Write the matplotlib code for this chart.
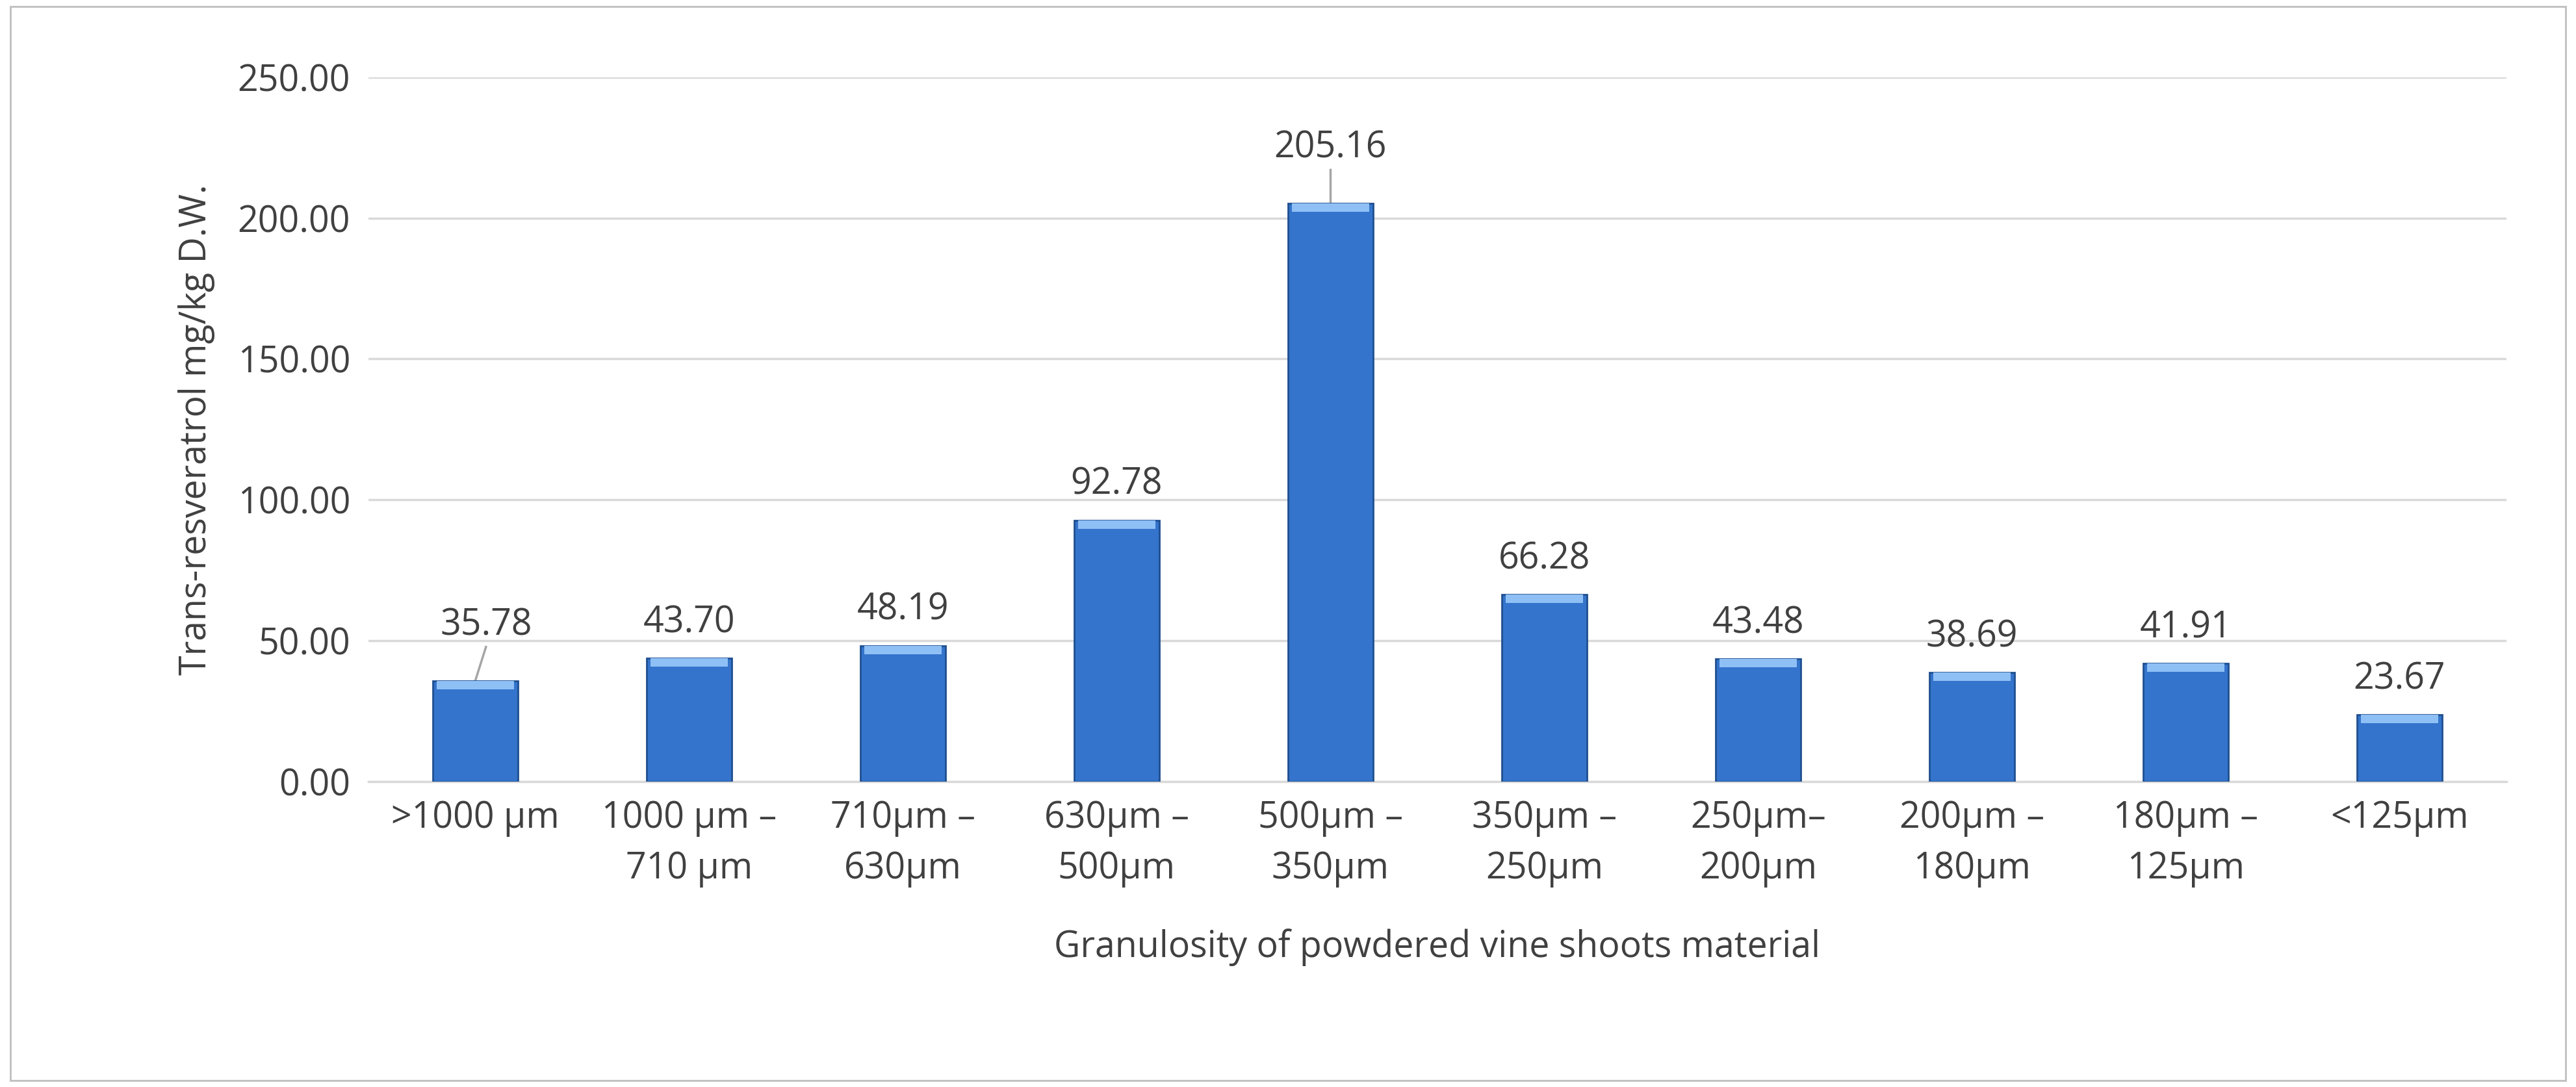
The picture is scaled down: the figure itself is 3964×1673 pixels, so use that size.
import matplotlib.pyplot as plt
import numpy as np

plt.rcParams['font.family'] = ['Open Sans', 'DejaVu Sans']

categories = [">1000 µm", "1000 µm –\n710 µm", "710µm –\n630µm", "630µm –\n500µm",
              "500µm –\n350µm", "350µm –\n250µm", "250µm–\n200µm", "200µm –\n180µm",
              "180µm –\n125µm", "<125µm"]
values = [35.78, 43.70, 48.19, 92.78, 205.16, 66.28, 43.48, 38.69, 41.91, 23.67]

fig = plt.figure(figsize=(39.64, 16.73), dpi=100)
ax = fig.add_axes([0.143, 0.281, 0.83, 0.648])
fig.patches.append(plt.Rectangle((0.004, 0.006), 0.992, 0.988, transform=fig.transFigure,
                                 fill=False, edgecolor="#bfbfbf", linewidth=2))

x = np.arange(len(values))
ax.bar(x, values, width=0.4, color="#3474cc", edgecolor="#1f4f8f", linewidth=2, zorder=3)
# lighter top cap to mimic the bevel
ax.bar(x, [3.0] * len(values), bottom=np.array(values) - 3.0, width=0.36,
       color="#8fc0f5", linewidth=0, zorder=4)

fs = 40
for i, v in enumerate(values):
    if i == 0:
        ax.plot([i, i + 0.05], [v, v + 12], color="#a6a6a6", lw=2.5, zorder=2)
        ax.text(i + 0.05, v + 13, f"{v:.2f}", ha="center", va="bottom", fontsize=fs, color="#404040")
    elif i == 4:
        ax.plot([i, i], [v, v + 12], color="#a6a6a6", lw=2.5, zorder=2)
        ax.text(i, v + 13, f"{v:.2f}", ha="center", va="bottom", fontsize=fs, color="#404040")
    else:
        ax.text(i, v + 6, f"{v:.2f}", ha="center", va="bottom", fontsize=fs, color="#404040")

ax.set_ylim(0, 250)
ax.set_xlim(-0.5, len(values) - 0.5)
ax.set_yticks(np.arange(0, 251, 50))
ax.set_yticklabels([f"{t:.2f}" for t in np.arange(0, 251, 50)])
ax.set_xticks(x)
ax.set_xticklabels(categories, linespacing=1.5)
ax.tick_params(axis="both", labelsize=fs, colors="#404040", length=0, pad=20)
ax.grid(axis="y", color="#d9d9d9", linewidth=2.5, zorder=0)
for s in ["top", "right", "left"]:
    ax.spines[s].set_visible(False)
ax.spines["bottom"].set_color("#d9d9d9")
ax.spines["bottom"].set_linewidth(2.5)

ax.set_ylabel("Trans-resveratrol mg/kg D.W.", fontsize=fs, color="#404040", labelpad=25)
ax.set_xlabel("Granulosity of powdered vine shoots material", fontsize=fs, color="#404040", labelpad=45)

fig.savefig("out.png", dpi=100)
